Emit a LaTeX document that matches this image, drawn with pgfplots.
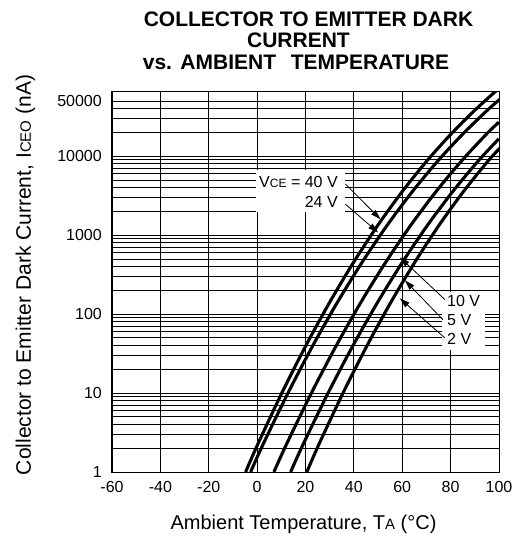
\documentclass[border=0pt]{standalone}
\usepackage{fontspec}
\setmainfont{Liberation Sans}
\usepackage{pgfplots}
\pgfplotsset{compat=1.18}
\usetikzlibrary{arrows.meta}
\newcommand\sm[1]{{\fontsize{12bp}{12bp}\selectfont #1}}
\newcommand\smL[1]{{\fontsize{15bp}{15bp}\selectfont #1}}
\begin{document}
\begin{tikzpicture}
\useasboundingbox (-112bp,-65bp) rectangle (402bp,472bp);
\begin{axis}[
  name=ax, at={(0,0)}, anchor=south west,
  scale only axis, width=387bp, height=380bp,
  xmin=-60, xmax=100, ymin=1, ymax=65000, ymode=log,
  xtick={-60,-40,-20,0,20,40,60,80,100},
  xticklabels={-60,-40,-20,0,20,40,60,80,100},
  ytick={1,10,100,1000,10000,50000},
  yticklabels={1,10,100,1000,10000,50000},
  minor ytick={2,3,4,5,6,7,8,9,20,30,40,50,60,70,80,90,200,300,400,500,600,700,800,900,2000,3000,4000,5000,6000,7000,8000,9000,20000,30000,40000},
  grid=both,
  major grid style={black, line width=0.8bp},
  minor grid style={black, line width=0.8bp},
  axis line style={black, line width=1bp},
  major tick length=0pt, minor tick length=0pt,
  tick label style={font=\fontsize{16bp}{19bp}\selectfont, inner sep=0pt},
  xticklabel style={anchor=base, yshift=-20bp},
  yticklabel style={anchor=east, xshift=-10bp},
  curve/.style={black, mark=none, line width=3.1bp, smooth, line cap=butt},
]
\fill[white] (axis cs:-0.5,1950) rectangle (axis cs:36.3,6680);
\fill[white] (axis cs:76.4,35.5) rectangle (axis cs:94.1,188);

% VCE = 40 V
\addplot[curve] coordinates {(-4.75,1) (0,2.158) (10,9.705) (20,39.08) (30,141.3) (40,459.2) (50,1346) (60,3565) (70,8570) (80,18840) (90,38190) (100,72440)};
% 24 V
\addplot[curve] coordinates {(-2.70,1) (2.21,2.158) (12.54,9.705) (22.87,39.08) (33.20,141.3) (43.53,459.2) (53.86,1346) (64.19,3565) (74.52,8570) (84.85,18840) (95.18,38190) (100.34,52480)};
% 10 V
\addplot[curve] coordinates {(6.95,1) (11.87,2.158) (22.22,9.705) (32.57,39.08) (42.92,141.3) (53.27,459.2) (63.62,1346) (73.97,3565) (84.32,8570) (94.67,18840) (99.94,26980)};
% 5 V
\addplot[curve] coordinates {(13.85,1) (18.77,2.158) (29.12,9.705) (39.47,39.08) (49.82,141.3) (60.17,459.2) (70.52,1346) (80.87,3565) (91.22,8570) (99.91,16560)};
% 2 V
\addplot[curve] coordinates {(20.55,1) (25.3,2.158) (35.3,9.705) (45.3,39.08) (55.3,141.3) (65.3,459.2) (75.3,1346) (85.3,3565) (95.3,8570) (100.3,12590)};

\node[anchor=east, inner sep=0pt, font=\fontsize{16bp}{19bp}\selectfont] at (axis cs:33.4,4700) {V\sm{CE} = 40 V};
\node[anchor=east, inner sep=0pt, font=\fontsize{16bp}{19bp}\selectfont] at (axis cs:33.4,2620) {24 V};
\draw[line width=0.8bp, -{Triangle[length=10bp,width=6bp]}] (axis cs:36.5,4440) -- (axis cs:51.0,1590);
\draw[line width=0.8bp, -{Triangle[length=10bp,width=6bp]}] (axis cs:36.5,2470) -- (axis cs:50.0,1080);

\node[anchor=west, inner sep=0pt, font=\fontsize{16bp}{19bp}\selectfont] at (axis cs:78.5,145) {10 V};
\node[anchor=west, inner sep=0pt, font=\fontsize{16bp}{19bp}\selectfont] at (axis cs:78.5,83) {5 V};
\node[anchor=west, inner sep=0pt, font=\fontsize{16bp}{19bp}\selectfont] at (axis cs:78.5,49) {2 V};
\draw[line width=0.8bp, -{Triangle[length=10bp,width=6bp]}] (axis cs:77.6,153) -- (axis cs:59.0,524);
\draw[line width=0.8bp, -{Triangle[length=10bp,width=6bp]}] (axis cs:76.8,85) -- (axis cs:61.1,267);
\draw[line width=0.8bp, -{Triangle[length=10bp,width=6bp]}] (axis cs:77.6,50) -- (axis cs:59.0,158);
\end{axis}

\node[font=\bfseries\fontsize{21bp}{22bp}\selectfont, anchor=base] at (196.5bp,445bp) {COLLECTOR TO EMITTER DARK};
\node[font=\bfseries\fontsize{21bp}{22bp}\selectfont, anchor=base] at (186.5bp,424bp) {CURRENT};
\node[font=\bfseries\fontsize{21bp}{22bp}\selectfont, anchor=base] at (184bp,402bp) {vs.\hspace{0.4em}AMBIENT\hspace{0.7em}TEMPERATURE};

\node[rotate=90, anchor=base, font=\fontsize{21bp}{22bp}\selectfont] at (-81bp,197bp) {Collector to Emitter Dark Current, I\smL{CEO} (nA)};
\node[anchor=base, font=\fontsize{20bp}{22bp}\selectfont] at (191.5bp,-57bp) {Ambient Temperature, T\smL{A} (°C)};
\end{tikzpicture}
\end{document}
